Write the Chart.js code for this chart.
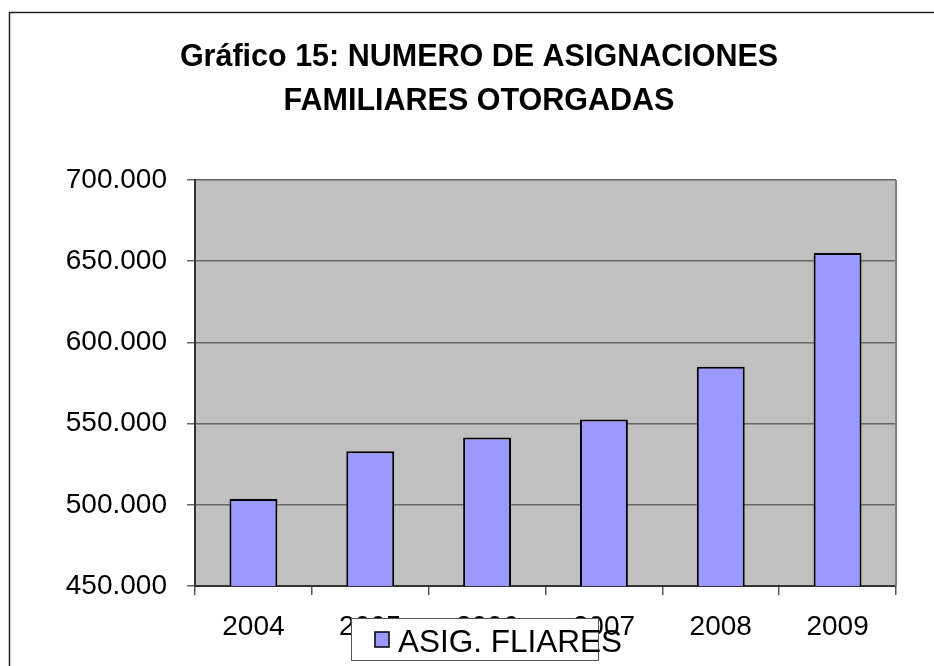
<!DOCTYPE html>
<html>
<head>
<meta charset="utf-8">
<script src="https://cdn.jsdelivr.net/npm/chart.js@4/dist/chart.umd.min.js"></script>
<style>
  html, body { margin: 0; padding: 0; background: #fff; overflow: hidden; }
  #wrap { width: 944px; height: 666px; }
</style>
</head>
<body>
<div id="wrap"><canvas id="myChart" width="944" height="666"></canvas></div>
<script>
// datos del grafico
const years = ['2004', '2005', '2006', '2007', '2008', '2009'];
const asignaciones = [503500, 533000, 541500, 552500, 585000, 655000];
const seriesName = 'ASIG. FLIARES';
const titleLines = ['Gráfico 15: NUMERO DE ASIGNACIONES', 'FAMILIARES OTORGADAS'];
const yMin = 450000;
const yMax = 700000;
const yStep = 50000;

const FONT = "Arial, 'Liberation Sans', sans-serif";

// miles con punto: 450.000
function fmt(v) {
    return String(v).replace(/\B(?=(\d{3})+(?!\d))/g, '.');
}

// fondo gris del area y marco exterior
const frame = {
    id: 'frame',
    beforeDraw(chart) {
        const ctx = chart.ctx;
        const a = chart.chartArea;
        ctx.save();
        ctx.strokeStyle = '#222';
        ctx.lineWidth = 1.5;
        ctx.strokeRect(9.5, 12.5, 1200, 1200);
        ctx.fillStyle = '#C0C0C0';
        ctx.fillRect(a.left, a.top, a.right - a.left, a.bottom - a.top);
        ctx.restore();
    },
    afterDatasetsDraw(chart) {
        const ctx = chart.ctx;
        const a = chart.chartArea;
        ctx.save();
        ctx.strokeStyle = '#808080';
        ctx.lineWidth = 2;
        ctx.beginPath();
        ctx.moveTo(a.right, a.top);
        ctx.lineTo(a.right, a.bottom);
        ctx.stroke();
        ctx.restore();
    }
};

// leyenda tipo excel (encima de las etiquetas del eje x)
const boxLegend = {
    id: 'boxLegend',
    afterDraw(chart) {
        const ctx = chart.ctx;
        const a = chart.chartArea;
        const ds = chart.data.datasets[0];
        const left = a.left + 156;
        const top = a.bottom + 32;
        ctx.save();
        ctx.fillStyle = '#fff';
        ctx.fillRect(left, top, 247, 42);
        ctx.strokeStyle = '#555';
        ctx.lineWidth = 1;
        ctx.strokeRect(left + 0.5, top + 0.5, 247, 42);
        ctx.fillStyle = ds.backgroundColor;
        ctx.fillRect(left + 24, top + 14, 14, 15);
        ctx.strokeStyle = '#000';
        ctx.lineWidth = 1.5;
        ctx.strokeRect(left + 24, top + 14, 14, 15);
        ctx.fillStyle = '#000';
        ctx.font = '31.5px ' + FONT;
        ctx.textBaseline = 'alphabetic';
        ctx.fillText(ds.label, left + 47, top + 33.5);
        ctx.restore();
    }
};

const ctx = document.getElementById('myChart').getContext('2d');
const myChart = new Chart(ctx, {
    type: 'bar',
    data: {
        labels: years,
        datasets: [{
            label: seriesName,
            data: asignaciones,
            backgroundColor: '#9999FF',
            borderColor: '#000',
            borderWidth: 2,
            barPercentage: 0.41,
            categoryPercentage: 1.0
        }]
    },
    options: {
        responsive: false,
        animation: false,
        layout: { padding: { top: 0, left: 62, right: 48, bottom: 0 } },
        plugins: {
            legend: { display: false },
            tooltip: { enabled: false },
            title: {
                display: true,
                text: titleLines,
                color: '#000',
                font: { family: FONT, size: 30.5, weight: 'bold', lineHeight: 44 / 30.5 },
                padding: { top: 35.5, bottom: 56.5 }
            }
        },
        scales: {
            x: {
                afterFit: (scale) => { scale.height = 80; },
                grid: {
                    drawOnChartArea: false,
                    drawTicks: true,
                    tickLength: 9,
                    color: '#555',
                    lineWidth: 1.5
                },
                border: { color: '#333', width: 2 },
                ticks: {
                    color: '#000',
                    padding: 15,
                    font: { family: FONT, size: 28 }
                }
            },
            y: {
                min: yMin,
                max: yMax,
                afterFit: (scale) => { scale.width = 133; },
                grid: {
                    color: '#666',
                    lineWidth: 1.5,
                    tickLength: 8
                },
                border: { color: '#333', width: 2 },
                ticks: {
                    stepSize: yStep,
                    color: '#000',
                    padding: 20,
                    font: { family: FONT, size: 28 },
                    callback: (v) => fmt(v)
                }
            }
        }
    },
    plugins: [frame, boxLegend]
});
</script>
</body>
</html>
